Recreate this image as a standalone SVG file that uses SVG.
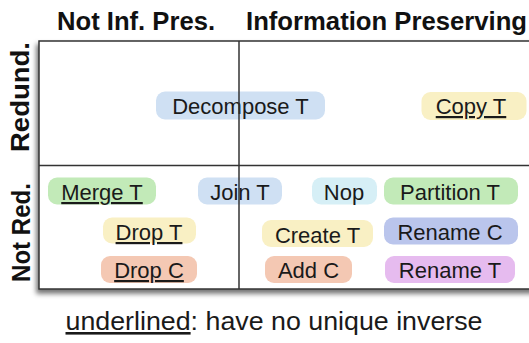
<svg xmlns="http://www.w3.org/2000/svg" width="529" height="343" viewBox="0 0 529 343">
  <defs>
    <filter id="shadow" x="-10%" y="-10%" width="130%" height="130%">
      <feDropShadow dx="-2" dy="4" stdDeviation="2.5" flood-color="#000" flood-opacity="0.55"/>
    </filter>
  </defs>
  <style>
    .hdr { font-family: "Liberation Sans", Arial, sans-serif; font-weight: bold; font-size: 25px; fill: #111; }
    .lbl { font-family: "Liberation Sans", Arial, sans-serif; font-size: 22px; fill: #1a1a1a; text-anchor: middle; }
    .u { text-decoration: underline; }
    .cap { font-family: "Liberation Sans", Arial, sans-serif; font-size: 26px; fill: #1a1a1a; text-anchor: middle; }
    .grid { stroke: #333; stroke-width: 1.5; fill: none; }
    .green { fill: #c2eab8; }
    .blue { fill: #cfe0f3; }
    .cyan { fill: #d6eff6; }
    .yellow { fill: #f9f0c4; }
    .salmon { fill: #f4c8b3; }
    .peri { fill: #bac5ec; }
    .lav { fill: #e6bbef; }
  </style>
  <rect x="0" y="0" width="529" height="343" fill="#ffffff"/>

  <!-- headers -->
  <text class="hdr" x="57" y="30" textLength="158" lengthAdjust="spacingAndGlyphs">Not Inf. Pres.</text>
  <text class="hdr" x="246" y="30" textLength="281" lengthAdjust="spacingAndGlyphs">Information Preserving</text>
  <text class="hdr" transform="translate(29,152) rotate(-90)" x="0" y="0" textLength="110" lengthAdjust="spacingAndGlyphs">Redund.</text>
  <text class="hdr" transform="translate(30,282) rotate(-90)" x="0" y="0" textLength="99" lengthAdjust="spacingAndGlyphs">Not Red.</text>

  <!-- frame -->
  <g id="frame">
    <rect x="39" y="41" width="500" height="248" fill="#ffffff" stroke="#333" stroke-width="1.5" filter="url(#shadow)"/>
  </g>

  <g id="decompose-t"><rect class="blue" x="156" y="91.5" width="169" height="28" rx="9"/><text class="lbl" x="240.5" y="113.5">Decompose T</text></g>
  <g id="copy-t"><rect class="yellow" x="421.5" y="92" width="105" height="28" rx="9"/><text class="lbl u" x="471" y="114">Copy T</text></g>
  <g id="merge-t"><rect class="green" x="48" y="177.5" width="108" height="27" rx="9"/><text class="lbl u" x="102" y="200">Merge T</text></g>
  <g id="join-t"><rect class="blue" x="198" y="177.5" width="84" height="27" rx="9"/><text class="lbl" x="240" y="200">Join T</text></g>
  <g id="nop"><rect class="cyan" x="312" y="177.5" width="65" height="27" rx="9"/><text class="lbl" x="344" y="200">Nop</text></g>
  <g id="partition-t"><rect class="green" x="384" y="177.5" width="134" height="27" rx="9"/><text class="lbl" x="450" y="200">Partition T</text></g>
  <g id="drop-t"><rect class="yellow" x="103" y="217.5" width="93" height="26" rx="9"/><text class="lbl u" x="149" y="240">Drop T</text></g>
  <g id="create-t"><rect class="yellow" x="262" y="220" width="111" height="27" rx="9"/><text class="lbl" x="317.5" y="243">Create T</text></g>
  <g id="rename-c"><rect class="peri" x="384" y="217.5" width="134" height="27" rx="9"/><text class="lbl" x="450" y="240">Rename C</text></g>
  <g id="drop-c"><rect class="salmon" x="101" y="256" width="96" height="27" rx="9"/><text class="lbl u" x="149" y="278">Drop C</text></g>
  <g id="add-c"><rect class="salmon" x="265" y="256" width="87" height="27" rx="9"/><text class="lbl" x="308.5" y="278">Add C</text></g>
  <g id="rename-t"><rect class="lav" x="385" y="256" width="130" height="27" rx="9"/><text class="lbl" x="450" y="278">Rename T</text></g>

  <!-- dividers (no connectors in this chart) -->
  <g id="connectors">
    <line class="grid" x1="239" y1="41" x2="239" y2="289"/>
    <line class="grid" x1="39" y1="165.5" x2="529" y2="165.5"/>
  </g>

  <text class="cap" x="274" y="330" textLength="417" lengthAdjust="spacingAndGlyphs"><tspan class="u">underlined</tspan>: have no unique inverse</text>
</svg>
